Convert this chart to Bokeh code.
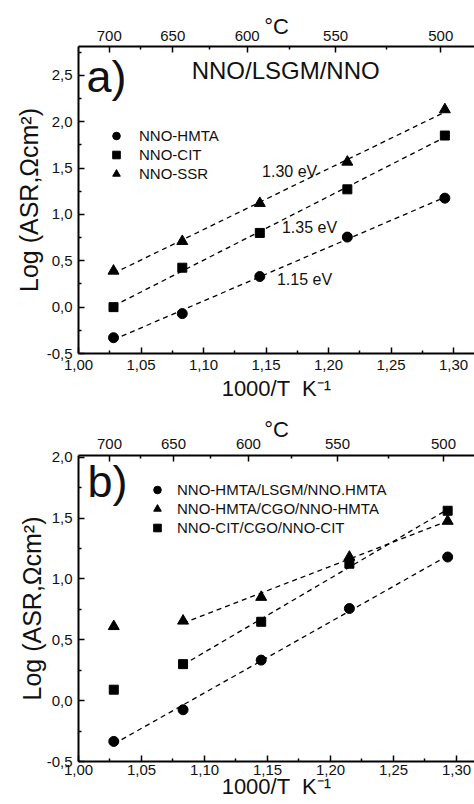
import numpy as np
from bokeh.plotting import figure
from bokeh.models import (LinearAxis, FixedTicker, CustomJSTickFormatter, Range1d,
                          Label, Legend, LegendItem)
from bokeh.layouts import column
from bokeh.embed import file_html
from bokeh.resources import INLINE

FONT = "Liberation Sans"
INK = "#111111"

# ---------------- data ----------------
# measurement temperatures as 1000/T (K^-1): 700, 650, 600, 550, 500 C
x_inv_T = [1.028, 1.083, 1.145, 1.215, 1.293]

# top (deg C) axis as drawn in the figure
top_labels = ["700", "650", "600", "550", "500"]
top_tick_pos = [1.0246, 1.0754, 1.1349, 1.2056, 1.2897]
top_minor_pos = [1.0492, 1.1048, 1.1690, 1.2460]

x_ticks = [1.00, 1.05, 1.10, 1.15, 1.20, 1.25, 1.30]
x_minor = [1.025, 1.075, 1.125, 1.175, 1.225, 1.275, 1.325]
ya_ticks = [-0.5, 0.0, 0.5, 1.0, 1.5, 2.0, 2.5]
ya_minor = [-0.25, 0.25, 0.75, 1.25, 1.75, 2.25, 2.75]
yb_ticks = [-0.5, 0.0, 0.5, 1.0, 1.5, 2.0]
yb_minor = [-0.25, 0.25, 0.75, 1.25, 1.75]

# panel a) NNO/LSGM/NNO
a_hmta = [-0.33, -0.07, 0.33, 0.755, 1.175]
a_cit = [0.00, 0.425, 0.80, 1.27, 1.85]
a_ssr = [0.39, 0.71, 1.12, 1.565, 2.13]
a_names = ["NNO-HMTA", "NNO-CIT", "NNO-SSR"]
a_ea = ["1.30 eV", "1.35 eV", "1.15 eV"]

# panel b)
b_hmta_lsgm = [-0.335, -0.075, 0.333, 0.757, 1.18]
b_hmta_cgo = [0.61, 0.655, 0.85, 1.18, 1.475]
b_cit_cgo = [0.09, 0.30, 0.648, 1.125, 1.56]
b_names = ["NNO-HMTA/LSGM/NNO.HMTA", "NNO-HMTA/CGO/NNO-HMTA", "NNO-CIT/CGO/NNO-CIT"]

Y_LABEL = "Log (ASR,\u03a9cm\u00b2)"
X_LABEL = "1000/T \u00a0K\u207b\u00b9"


def style_axis(ax, label_size="22px"):
    ax.axis_line_width = 2
    ax.axis_line_color = "black"
    ax.major_tick_in = 6
    ax.major_tick_out = 0
    ax.minor_tick_in = 3
    ax.minor_tick_out = 0
    ax.major_tick_line_width = 1.5
    ax.minor_tick_line_width = 1.5
    ax.major_tick_line_color = "black"
    ax.minor_tick_line_color = "black"
    ax.major_label_text_font = FONT
    ax.major_label_text_font_size = "15px"
    ax.major_label_text_color = INK
    ax.axis_label_text_font = FONT
    ax.axis_label_text_font_style = "normal"
    ax.axis_label_text_font_size = label_size
    ax.axis_label_text_color = INK


def fit_line(p, xs, ys):
    k, b = np.polyfit(xs, ys, 1)
    x0, x1 = xs[0], xs[-1]
    p.line([x0, x1], [k * x0 + b, k * x1 + b], line_color="black",
           line_width=1.3, line_dash="5 4")


def make_panel(height, x_end, y_start, y_end, yt, ym, bl, bt, bb,
               x_tick_standoff, x_label_standoff, top_standoff, c_standoff,
               y_label_standoff):
    p = figure(width=474, height=height, output_backend="svg", toolbar_location=None,
               x_range=Range1d(1.0, x_end), y_range=Range1d(y_start, y_end),
               min_border_left=bl, min_border_right=0, min_border_top=bt,
               min_border_bottom=bb)
    p.outline_line_color = None
    p.grid.visible = False

    xa = p.xaxis[0]
    xa.ticker = FixedTicker(ticks=x_ticks, minor_ticks=x_minor)
    xa.formatter = CustomJSTickFormatter(code="return tick.toFixed(2).replace('.', ',');")
    xa.axis_label = X_LABEL
    style_axis(xa)
    xa.major_label_standoff = x_tick_standoff
    xa.axis_label_standoff = x_label_standoff

    ya = p.yaxis[0]
    ya.ticker = FixedTicker(ticks=yt, minor_ticks=ym)
    ya.formatter = CustomJSTickFormatter(code="return tick.toFixed(1).replace('.', ',');")
    ya.axis_label = Y_LABEL
    style_axis(ya, "25px")
    ya.major_label_standoff = 6
    ya.axis_label_standoff = y_label_standoff

    top = LinearAxis(
        ticker=FixedTicker(ticks=top_tick_pos, minor_ticks=top_minor_pos),
        formatter=CustomJSTickFormatter(
            args=dict(pos=top_tick_pos, labels=top_labels),
            code="""
                let best = 0;
                for (let i = 0; i < pos.length; i++) {
                    if (Math.abs(pos[i] - tick) < Math.abs(pos[best] - tick)) best = i;
                }
                return labels[best];
            """),
        axis_label="\u00b0C")
    style_axis(top)
    top.major_label_standoff = top_standoff
    top.axis_label_standoff = c_standoff
    p.add_layout(top, "above")
    return p


def note(p, x, y, text, size):
    p.add_layout(Label(x=x, y=y, text=text, text_font=FONT, text_font_size=size,
                       text_baseline="middle", text_color=INK))


# ---------------- panel a ----------------
pa = make_panel(404, 1.3167, -0.5, 2.81, ya_ticks, ya_minor, 75, 46, 51,
                6, 3, 6, -11, 1)
ra1 = pa.scatter(x_inv_T, a_hmta, marker="circle", size=10, color="black")
ra2 = pa.scatter(x_inv_T, a_cit, marker="square", size=9, color="black")
ra3 = pa.scatter(x_inv_T, a_ssr, marker="triangle", size=11, color="black")
for ys in (a_hmta, a_cit, a_ssr):
    fit_line(pa, x_inv_T, ys)

leg_a = Legend(items=[LegendItem(label=a_names[0], renderers=[ra1]),
                      LegendItem(label=a_names[1], renderers=[ra2]),
                      LegendItem(label=a_names[2], renderers=[ra3])],
               location=(28, 170), border_line_color=None, background_fill_alpha=0,
               padding=0, margin=0, glyph_width=20, glyph_height=19, label_height=19,
               label_standoff=13, spacing=0, label_text_font=FONT,
               label_text_font_size="15px", label_text_color=INK)
pa.add_layout(leg_a)

note(pa, 1.0063, 2.484, "a)", "45px")
note(pa, 1.0905, 2.55, "NNO/LSGM/NNO", "24px")
note(pa, 1.1468, 1.465, a_ea[0], "16px")
note(pa, 1.1627, 0.857, a_ea[1], "16px")
note(pa, 1.1587, 0.296, a_ea[2], "16px")

# ---------------- panel b ----------------
pb = make_panel(400, 1.3143, -0.5, 2.014, yb_ticks, yb_minor, 78, 51, 43,
                3, -4, 7, -6, -2)
rb1 = pb.scatter(x_inv_T, b_hmta_lsgm, marker="circle", size=10, color="black")
rb2 = pb.scatter(x_inv_T, b_hmta_cgo, marker="triangle", size=11, color="black")
rb3 = pb.scatter(x_inv_T, b_cit_cgo, marker="square", size=9, color="black")
fit_line(pb, x_inv_T, b_hmta_lsgm)
fit_line(pb, x_inv_T[1:], b_hmta_cgo[1:])
fit_line(pb, x_inv_T[1:], b_cit_cgo[1:])

leg_b = Legend(items=[LegendItem(label=b_names[0], renderers=[rb1]),
                      LegendItem(label=b_names[1], renderers=[rb2]),
                      LegendItem(label=b_names[2], renderers=[rb3])],
               location=(69, 224), border_line_color=None, background_fill_alpha=0,
               padding=0, margin=0, glyph_width=20, glyph_height=19, label_height=19,
               label_standoff=10, spacing=0, label_text_font=FONT,
               label_text_font_size="15px", label_text_color=INK)
pb.add_layout(leg_b)

note(pb, 1.0071, 1.797, "b)", "45px")

layout = column(pa, pb, spacing=0)
open("out.html", "w").write(file_html(layout, INLINE))
